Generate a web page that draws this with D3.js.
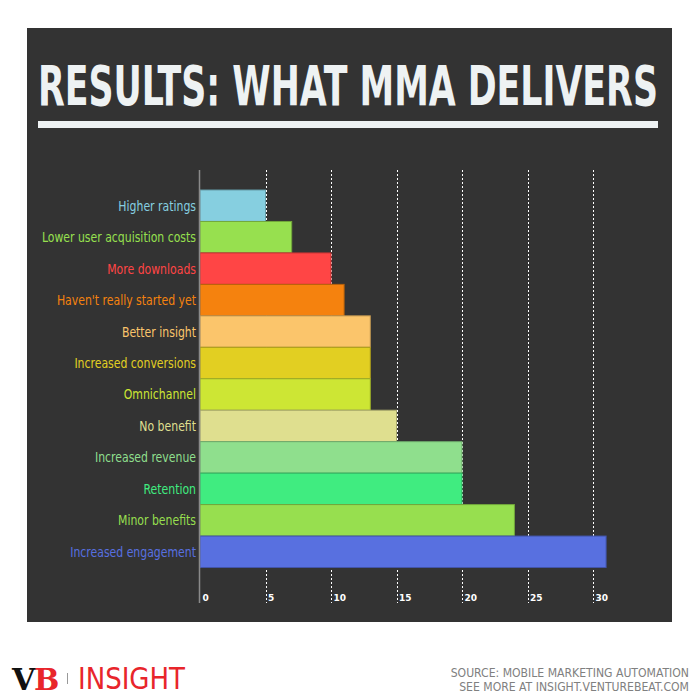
<!DOCTYPE html>
<html><head><meta charset="utf-8">
<script src="https://cdn.jsdelivr.net/npm/d3@7"></script>
<style>html,body{margin:0;padding:0;background:#fff;}svg{display:block;}</style>
</head><body>
<script>
const categories = ["Higher ratings","Lower user acquisition costs","More downloads","Haven't really started yet","Better insight","Increased conversions","Omnichannel","No benefit","Increased revenue","Retention","Minor benefits","Increased engagement"];
const values = [5,7,10,11,13,13,13,15,20,20,24,31];
const colors = ["#86cfe0","#97e04f","#ff4545","#f5820e","#fbc56b","#e2cf22","#cde634","#dfdf8f","#8fdf8d","#40ec80","#97df4f","#5870e0"];
const tickValues = [0,5,10,15,20,25,30];
const title = "RESULTS: WHAT MMA DELIVERS";
const sourceLines = ["SOURCE: MOBILE MARKETING AUTOMATION","SEE MORE AT INSIGHT.VENTUREBEAT.COM"];

const W=700,H=700;
const svg=d3.select("body").append("svg").attr("width",W).attr("height",H);
svg.append("rect").attr("x",27).attr("y",28).attr("width",645).attr("height",594).attr("fill","#333333");

const condensed="'DejaVu Sans Condensed','Liberation Sans Narrow',sans-serif";
function squeeze(sel,f){sel.each(function(){const w=this.getComputedTextLength();d3.select(this).attr("textLength",w*f).attr("lengthAdjust","spacingAndGlyphs");});}

const tg=svg.append("g");
const tt=tg.append("text").attr("x",0).attr("y",0).text(title)
  .attr("font-family",condensed)
  .attr("font-weight","bold").attr("font-size",56).attr("fill","#eef2f3");
const tw=tt.node().getComputedTextLength();
tg.attr("transform",`translate(38,105) scale(${620/tw},1)`);
svg.append("rect").attr("x",38).attr("y",121).attr("width",620).attr("height",7).attr("fill","#eef2f3");

const x=d3.scaleLinear().domain([0,5]).range([200,265.5]);
const y=d3.scaleBand().domain(categories).range([190,567.5]).padding(0);

// gridlines
svg.append("g").selectAll("line").data(tickValues.filter(d=>d>0)).join("line")
  .attr("x1",d=>Math.round(x(d))+0.5).attr("x2",d=>Math.round(x(d))+0.5)
  .attr("y1",170).attr("y2",603)
  .attr("stroke","#ffffff").attr("stroke-width",1).attr("stroke-dasharray","2,2");

// bars
svg.append("g").selectAll("rect").data(values).join("rect")
  .attr("x",x(0)).attr("y",(d,i)=>y(categories[i]))
  .attr("width",d=>x(d)-x(0)).attr("height",y.bandwidth())
  .attr("fill",(d,i)=>colors[i])
  .attr("stroke",(d,i)=>d3.color(colors[i]).darker(0.8)).attr("stroke-width",1);

// axis line
svg.append("line").attr("x1",199.5).attr("x2",199.5).attr("y1",170).attr("y2",603)
  .attr("stroke","#8a8a8a").attr("stroke-width",1.5);

// tick labels
svg.append("g").selectAll("text").data(tickValues).join("text")
  .attr("x",d=>x(d)+2.5).attr("y",601).text(d=>d)
  .attr("font-family","'DejaVu Sans',sans-serif").attr("font-weight","bold")
  .attr("font-size",9).attr("fill","#ffffff");

// category labels
const labels=svg.append("g").selectAll("text").data(categories).join("text")
  .attr("x",196).attr("y",d=>y(d)+y.bandwidth()/2+5)
  .attr("text-anchor","end").text(d=>d)
  .attr("font-family",condensed)
  .attr("font-size",14).attr("fill",(d,i)=>colors[i]);
squeeze(labels,0.865);

// footer
svg.append("text").attr("x",12).attr("y",690).text("V")
  .attr("font-family","'DejaVu Serif',serif").attr("font-weight","bold").attr("font-size",30).attr("fill","#111");
svg.append("text").attr("x",34).attr("y",690).text("B")
  .attr("font-family","'DejaVu Serif',serif").attr("font-weight","bold").attr("font-size",30).attr("fill","#e8252b");
svg.append("line").attr("x1",67.5).attr("x2",67.5).attr("y1",673).attr("y2",684).attr("stroke","#999").attr("stroke-width",1);
svg.append("text").attr("x",78).attr("y",689).text("INSIGHT")
  .attr("font-family",condensed)
  .attr("font-size",31).attr("fill","#e8252b").attr("textLength",107).attr("lengthAdjust","spacingAndGlyphs");
svg.append("g").selectAll("text").data(sourceLines).join("text")
  .attr("x",689).attr("y",(d,i)=>677+i*13.5).attr("text-anchor","end").text(d=>d)
  .attr("font-family",condensed)
  .attr("font-size",12.1).attr("fill","#808080");
</script>
</body></html>
